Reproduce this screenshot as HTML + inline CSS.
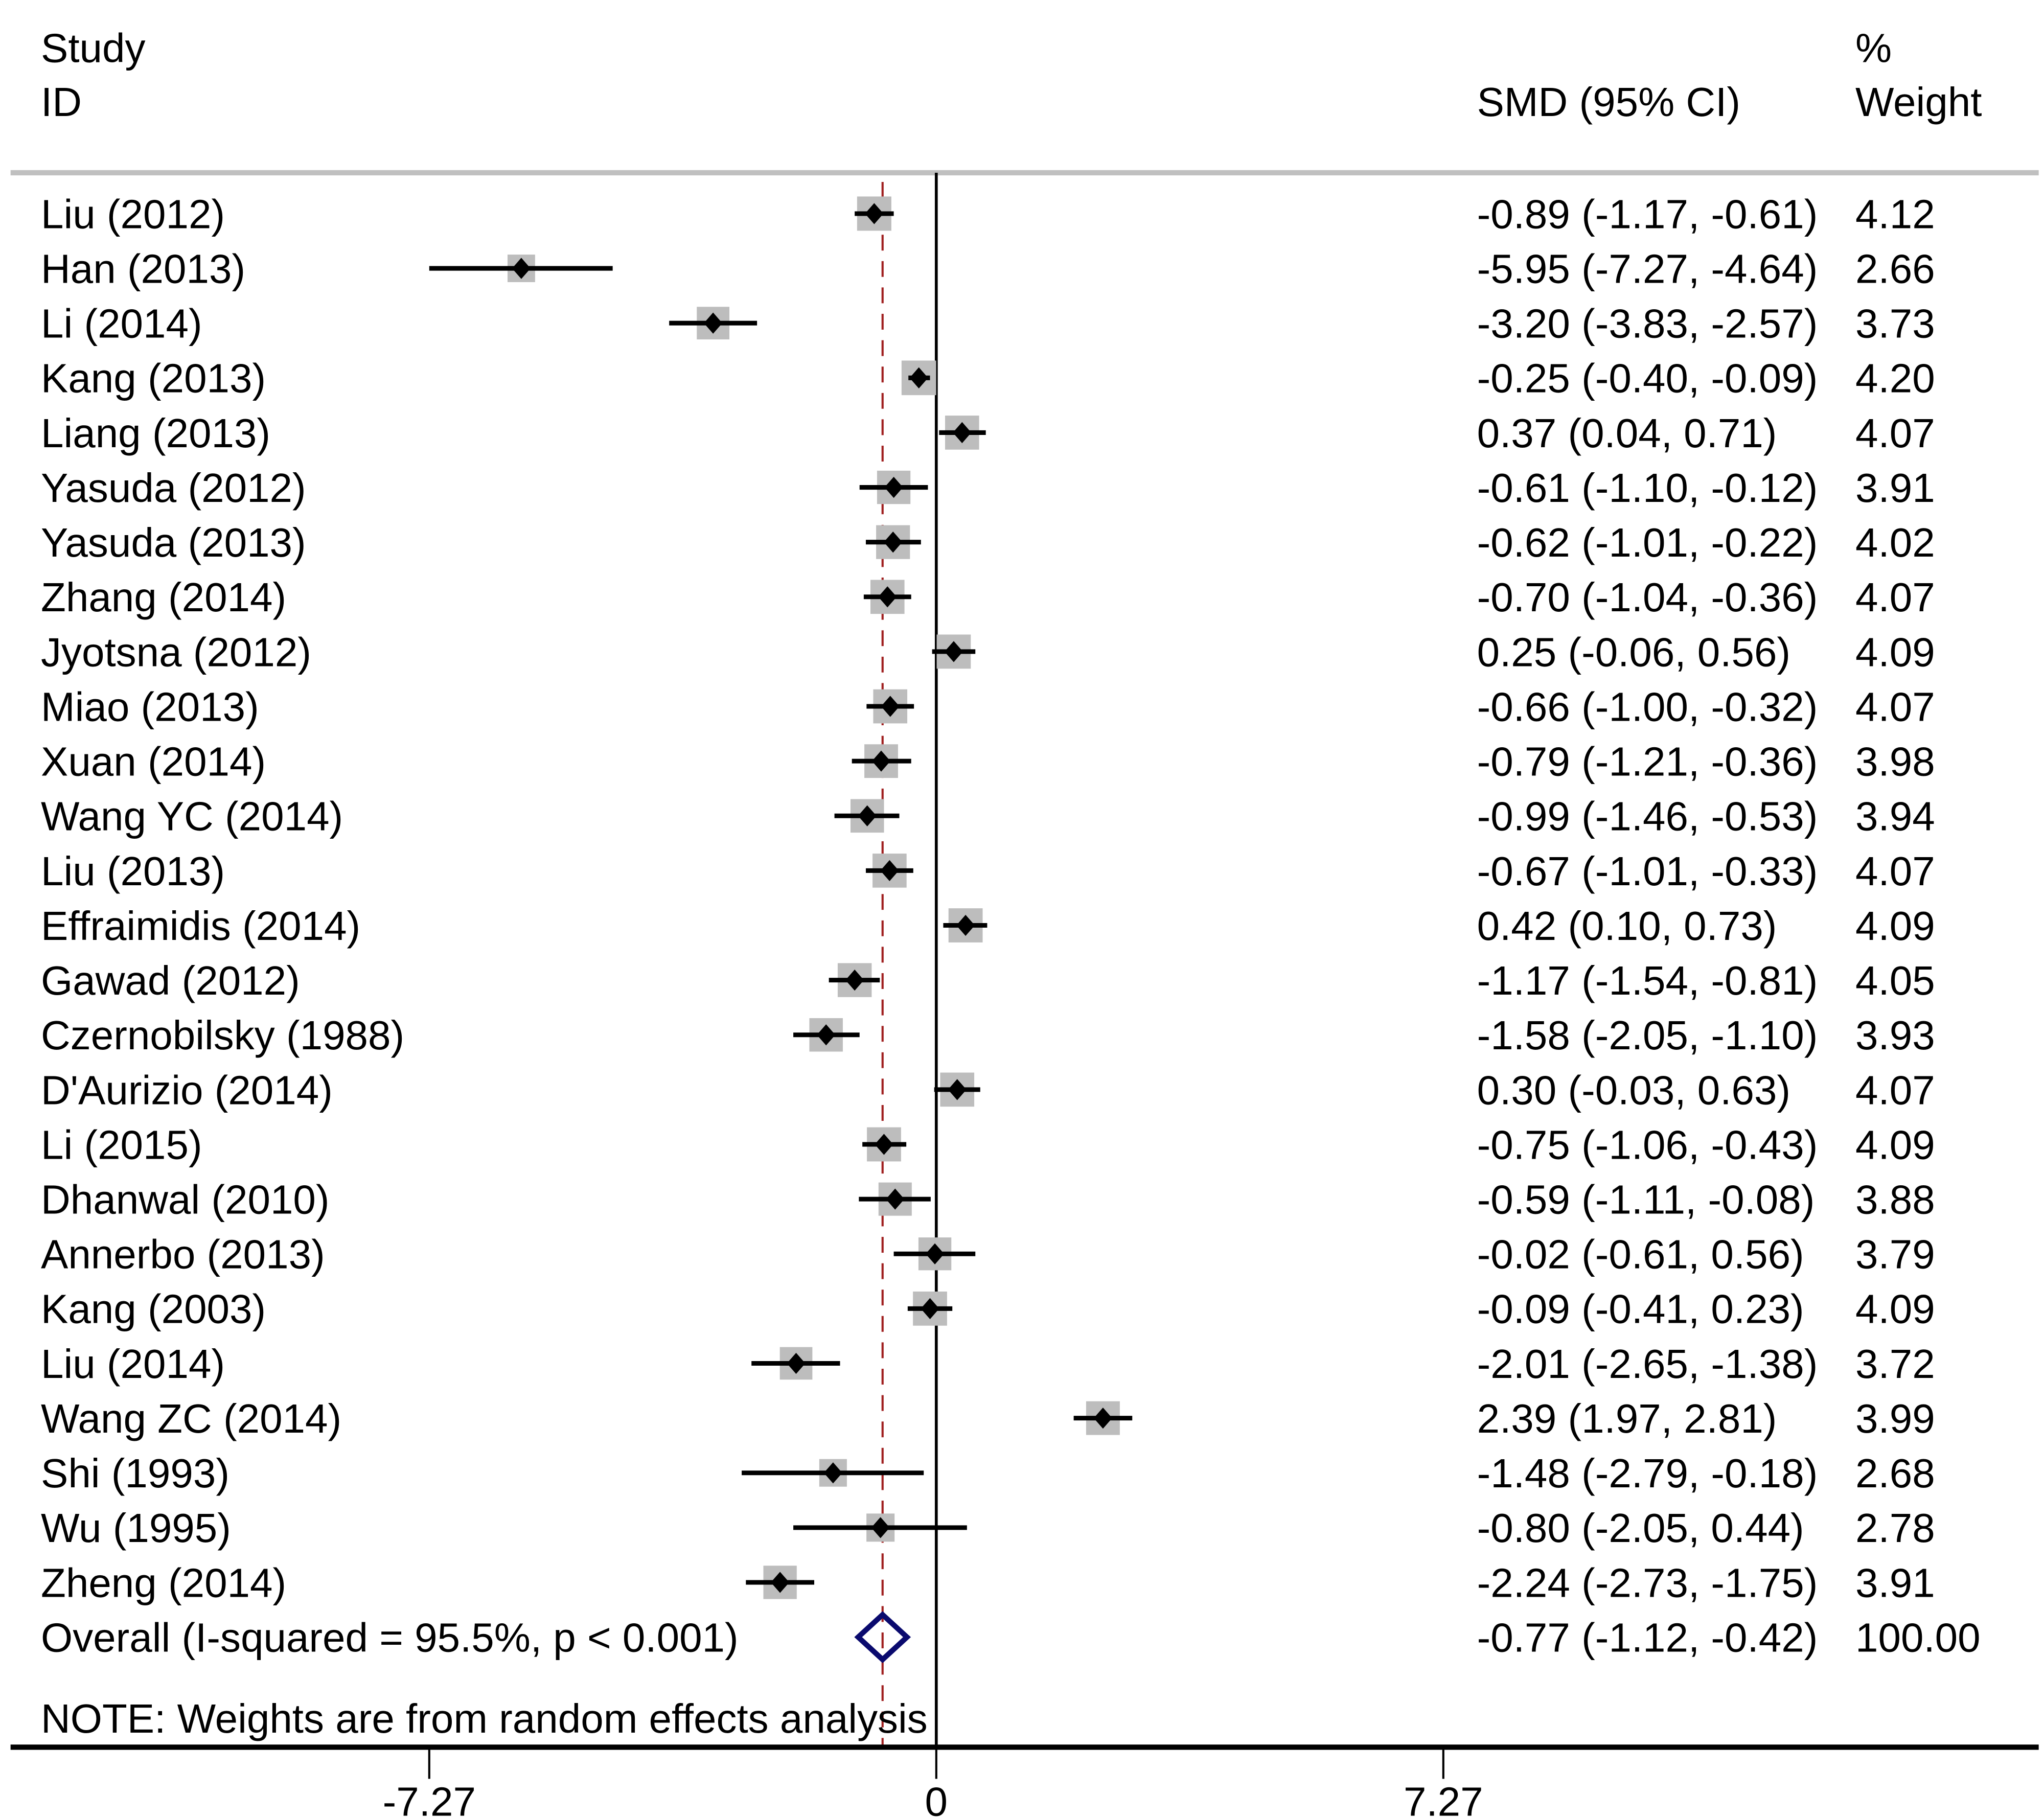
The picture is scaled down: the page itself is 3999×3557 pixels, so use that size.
<!DOCTYPE html>
<html><head><meta charset="utf-8"><style>
html,body{margin:0;padding:0;background:#fff}
svg{display:block}
text{font-family:"Liberation Sans",Arial,sans-serif;font-size:31px;fill:#000}
</style></head><body>
<svg id="chart" width="3999" height="3557" viewBox="0 0 1550 1378.7" xmlns="http://www.w3.org/2000/svg">
<g id="static">
<text x="31" y="47">Study</text>
<text x="31" y="88">ID</text>
<text x="1120" y="88">SMD (95% CI)</text>
<text x="1407" y="47">%</text>
<text x="1407" y="88">Weight</text>
<rect x="8" y="129" width="1538" height="4" fill="#c0c0c0"/>
</g>
<g id="marks"></g>
</svg>
<script>
const studies=["Liu (2012)","Han (2013)","Li (2014)","Kang (2013)","Liang (2013)","Yasuda (2012)","Yasuda (2013)","Zhang (2014)","Jyotsna (2012)","Miao (2013)","Xuan (2014)","Wang YC (2014)","Liu (2013)","Effraimidis (2014)","Gawad (2012)","Czernobilsky (1988)","D'Aurizio (2014)","Li (2015)","Dhanwal (2010)","Annerbo (2013)","Kang (2003)","Liu (2014)","Wang ZC (2014)","Shi (1993)","Wu (1995)","Zheng (2014)"];
const smd=[-0.89,-5.95,-3.20,-0.25,0.37,-0.61,-0.62,-0.70,0.25,-0.66,-0.79,-0.99,-0.67,0.42,-1.17,-1.58,0.30,-0.75,-0.59,-0.02,-0.09,-2.01,2.39,-1.48,-0.80,-2.24];
const lower=[-1.17,-7.27,-3.83,-0.40,0.04,-1.10,-1.01,-1.04,-0.06,-1.00,-1.21,-1.46,-1.01,0.10,-1.54,-2.05,-0.03,-1.06,-1.11,-0.61,-0.41,-2.65,1.97,-2.79,-2.05,-2.73];
const upper=[-0.61,-4.64,-2.57,-0.09,0.71,-0.12,-0.22,-0.36,0.56,-0.32,-0.36,-0.53,-0.33,0.73,-0.81,-1.10,0.63,-0.43,-0.08,0.56,0.23,-1.38,2.81,-0.18,0.44,-1.75];
const weights=[4.12,2.66,3.73,4.20,4.07,3.91,4.02,4.07,4.09,4.07,3.98,3.94,4.07,4.09,4.05,3.93,4.07,4.09,3.88,3.79,4.09,3.72,3.99,2.68,2.78,3.91];
const overall=[-0.77,-1.12,-0.42];
const overallWeight="100.00";
const overallLabel="Overall  (I-squared = 95.5%, p < 0.001)";
const ticks=[-7.27,0,7.27];

const NS="http://www.w3.org/2000/svg";
const g=document.getElementById('marks');
const X0=710,K=384.5/7.27;
const xs=v=>X0+v*K;
const rowY=i=>162+i*41.52;
function mk(tag,attrs){const e=document.createElementNS(NS,tag);for(const k in attrs)e.setAttribute(k,attrs[k]);g.appendChild(e);return e;}
const f2=v=>v.toFixed(2);
const n=studies.length;
const oy=rowY(n);
let e=mk('line',{x1:X0,y1:131,x2:X0,y2:1325,stroke:'#000','stroke-width':2.2});


e=mk('line',{x1:xs(overall[0]),y1:138,x2:xs(overall[0]),y2:1325,stroke:'#a02020','stroke-width':1.6,'stroke-dasharray':'12,8'});


studies.forEach((s,i)=>{
  const y=rowY(i);
  let t=mk('text',{x:31,y:y+11});t.textContent=s;
  
  
  const side=12.8*Math.sqrt(weights[i]);
  let r=mk('rect',{x:xs(smd[i])-side/2,y:y-side/2,width:side,height:side,fill:'#bdbdbd'});
  
  
  let l=mk('line',{x1:xs(lower[i]),y1:y,x2:xs(upper[i]),y2:y,stroke:'#000','stroke-width':3.5});
  
  
  const cx=xs(smd[i]);
  let p=mk('polygon',{points:`${cx-7},${y} ${cx},${y-8} ${cx+7},${y} ${cx},${y+8}`,fill:'#000'});
  
  
  let c=mk('text',{x:1120,y:y+11});c.textContent=`${f2(smd[i])} (${f2(lower[i])}, ${f2(upper[i])})`;
  
  
  let w=mk('text',{x:1407,y:y+11});w.textContent=f2(weights[i]);
  
  
});
let ot=mk('text',{x:31,y:oy+11});ot.textContent=overallLabel;


let d=mk('polygon',{points:`${xs(overall[1])},${oy} ${xs(overall[0])},${oy-17} ${xs(overall[2])},${oy} ${xs(overall[0])},${oy+17}`,fill:'none',stroke:'#0a0a6e','stroke-width':4});


let oc=mk('text',{x:1120,y:oy+11});oc.textContent=`${f2(overall[0])} (${f2(overall[1])}, ${f2(overall[2])})`;


let ow=mk('text',{x:1407,y:oy+11});ow.textContent=overallWeight;


let nt=mk('text',{x:31,y:1314});nt.textContent="NOTE: Weights are from random effects analysis";


let ax=mk('rect',{x:8,y:1323,width:1538,height:4,fill:'#000'});


ticks.forEach(tv=>{
  let tl=mk('line',{x1:xs(tv),y1:1325,x2:xs(tv),y2:1349,stroke:'#000','stroke-width':1.6});
  
  
  let tt=mk('text',{x:xs(tv),y:1377,'text-anchor':'middle'});tt.textContent=String(tv);
  
  
});
</script>
</body></html>
